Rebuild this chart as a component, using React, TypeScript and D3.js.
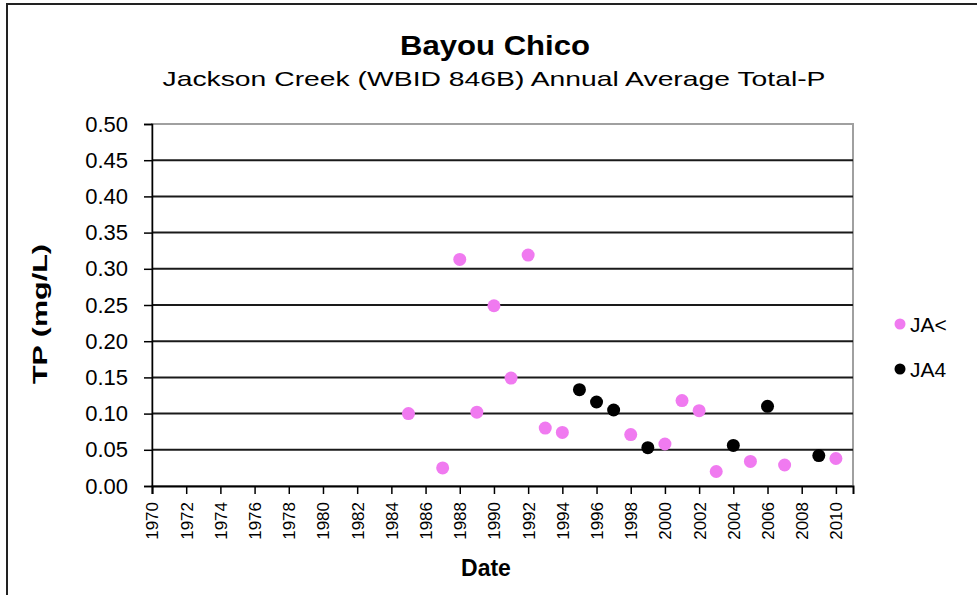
import React, { useEffect, useRef } from "react";
import * as d3 from "d3";

const pinkYears = [1985, 1987, 1988, 1989, 1990, 1991, 1992, 1993, 1994, 1998, 2000, 2001, 2002, 2003, 2005, 2007, 2010];
const pinkValues = [0.1, 0.025, 0.313, 0.102, 0.249, 0.149, 0.319, 0.08, 0.074, 0.071, 0.058, 0.118, 0.104, 0.02, 0.034, 0.029, 0.038];
const blackYears = [1995, 1996, 1997, 1999, 2004, 2006, 2009];
const blackValues = [0.133, 0.116, 0.105, 0.053, 0.056, 0.11, 0.042];
const yTicks = [0, 0.05, 0.1, 0.15, 0.2, 0.25, 0.3, 0.35, 0.4, 0.45, 0.5];
const xTicks = d3.range(1970, 2011, 2);
const seriesNames = ["JA<", "JA4"];
const seriesColors = ["#f07af0", "#000000"];

const FONT = "'Liberation Sans', Arial, sans-serif";

const App: React.FC = () => {
  const svgRef = useRef<SVGSVGElement>(null);

  useEffect(() => {
    const width = 977;
    const height = 595;
    const plot = { left: 152, right: 853, top: 124, bottom: 486 };

    const svg = d3.select(svgRef.current).attr("width", width).attr("height", height);
    svg.selectAll("*").remove();

    svg.append("rect").attr("width", width).attr("height", height).attr("fill", "#fff");

    // outer chart border
    svg
      .append("rect")
      .attr("x", 7)
      .attr("y", 4)
      .attr("width", width + 10)
      .attr("height", height + 10)
      .attr("fill", "none")
      .attr("stroke", "#222")
      .attr("stroke-width", 2);

    const x = d3.scaleLinear().domain([1970, 2011]).range([plot.left, plot.right]);
    const y = d3.scaleLinear().domain([0, 0.5]).range([plot.bottom, plot.top]);

    // plot frame (gray)
    svg
      .append("rect")
      .attr("x", plot.left)
      .attr("y", plot.top)
      .attr("width", plot.right - plot.left)
      .attr("height", plot.bottom - plot.top)
      .attr("fill", "none")
      .attr("stroke", "#a0a0a0")
      .attr("stroke-width", 2);

    // gridlines
    svg
      .append("g")
      .selectAll("line")
      .data(yTicks.slice(1, -1))
      .enter()
      .append("line")
      .attr("x1", plot.left)
      .attr("x2", plot.right)
      .attr("y1", d => y(d))
      .attr("y2", d => y(d))
      .attr("stroke", "#1a1a1a")
      .attr("stroke-width", 2);

    // y axis
    const yAxis = svg
      .append("g")
      .attr("transform", `translate(${plot.left},0)`)
      .call(
        d3
          .axisLeft(y)
          .tickValues(yTicks)
          .tickSize(8)
          .tickPadding(16)
          .tickFormat(d => d3.format(".2f")(d as number))
      );
    yAxis.select(".domain").attr("stroke", "#000").attr("stroke-width", 1.5);
    yAxis.selectAll(".tick line").attr("stroke", "#000").attr("stroke-width", 1.5);
    yAxis
      .selectAll(".tick text")
      .attr("font-family", FONT)
      .attr("font-size", 22)
      .attr("fill", "#000");

    // x axis
    const xAxis = svg
      .append("g")
      .attr("transform", `translate(0,${plot.bottom})`)
      .call(d3.axisBottom(x).tickValues(xTicks).tickSize(8).tickFormat(d => String(d)));
    xAxis.select(".domain").attr("stroke", "#000").attr("stroke-width", 2);
    xAxis.selectAll(".tick line").attr("stroke", "#000").attr("stroke-width", 1.5);
    xAxis
      .selectAll(".tick text")
      .attr("font-family", FONT)
      .attr("font-size", 17)
      .attr("fill", "#000")
      .attr("transform", "rotate(-90)")
      .attr("text-anchor", "end")
      .attr("x", -16)
      .attr("y", 0)
      .attr("dy", "0.35em");

    // points
    const pink = pinkYears.map((yr, i) => ({ yr, v: pinkValues[i] }));
    const black = blackYears.map((yr, i) => ({ yr, v: blackValues[i] }));

    [pink, black].forEach((data, si) => {
      svg
        .append("g")
        .selectAll("circle")
        .data(data)
        .enter()
        .append("circle")
        .attr("cx", d => x(d.yr))
        .attr("cy", d => y(d.v))
        .attr("r", 6.5)
        .attr("fill", seriesColors[si]);
    });

    // titles
    svg
      .append("text")
      .attr("x", 495)
      .attr("y", 55)
      .attr("text-anchor", "middle")
      .attr("font-family", FONT)
      .attr("font-weight", "bold")
      .attr("font-size", 27)
      .attr("textLength", 190)
      .attr("lengthAdjust", "spacingAndGlyphs")
      .text("Bayou Chico");

    svg
      .append("text")
      .attr("x", 494)
      .attr("y", 86)
      .attr("text-anchor", "middle")
      .attr("font-family", FONT)
      .attr("font-size", 21)
      .attr("textLength", 663)
      .attr("lengthAdjust", "spacingAndGlyphs")
      .text("Jackson Creek (WBID 846B) Annual Average Total-P");

    svg
      .append("text")
      .attr("transform", `translate(47,${(plot.top + plot.bottom) / 2 + 9}) rotate(-90)`)
      .attr("text-anchor", "middle")
      .attr("font-family", FONT)
      .attr("font-weight", "bold")
      .attr("font-size", 21)
      .attr("textLength", 140)
      .attr("lengthAdjust", "spacingAndGlyphs")
      .text("TP (mg/L)");

    svg
      .append("text")
      .attr("x", 486)
      .attr("y", 576)
      .attr("text-anchor", "middle")
      .attr("font-family", FONT)
      .attr("font-weight", "bold")
      .attr("font-size", 23)
      .text("Date");

    // legend
    const legend = svg.append("g").attr("transform", "translate(900,324)");
    const items = legend
      .selectAll("g")
      .data(seriesNames)
      .enter()
      .append("g")
      .attr("transform", (d, i) => `translate(0, ${i * 45})`);
    items
      .append("circle")
      .attr("r", 5.5)
      .attr("fill", (d, i) => seriesColors[i]);
    items
      .append("text")
      .attr("x", 10)
      .attr("y", 0)
      .attr("dy", "0.36em")
      .attr("font-family", FONT)
      .attr("font-size", 21)
      .text(d => d);
  }, []);

  return (
    <div>
      <svg ref={svgRef} style={{ position: "absolute", left: 0, top: 0 }}></svg>
    </div>
  );
};

export default App;
